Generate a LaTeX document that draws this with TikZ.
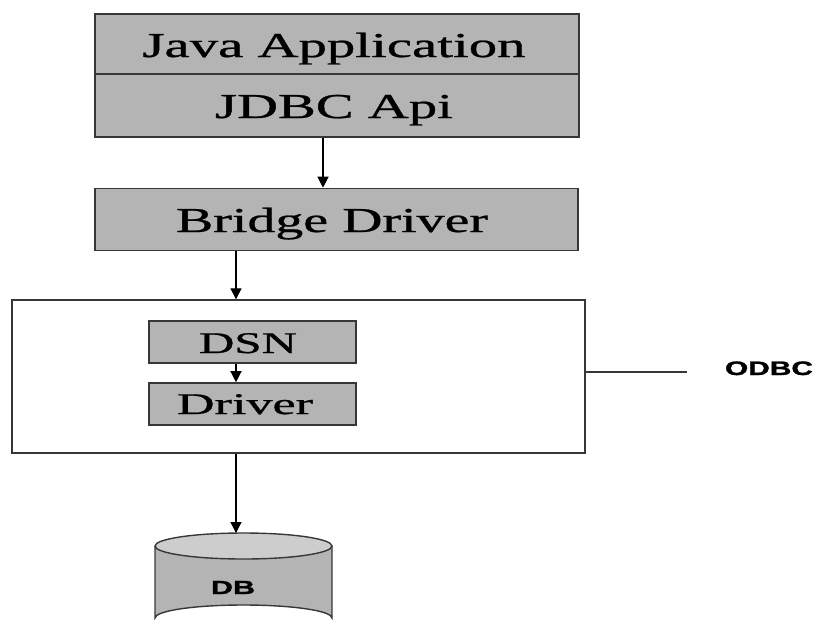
\documentclass[tikz,border=0pt]{standalone}
\usepackage{fontspec}
\usepackage{graphicx}
\setmainfont[FakeBold=0.7]{Liberation Serif}
\newfontfamily\labelsans[FakeBold=1.2]{Liberation Sans Bold}
\usetikzlibrary{arrows.meta}
\definecolor{boxgray}{RGB}{180,180,180}
\definecolor{topgray}{RGB}{205,205,205}
\definecolor{edgegray}{RGB}{55,55,55}
\tikzset{
  graybox/.style={draw=edgegray, line width=1.6pt, fill=boxgray, inner sep=0pt},
  whitebox/.style={draw=edgegray, line width=1.4pt, fill=white, inner sep=0pt},
  arr/.style={draw=black, line width=1.3pt, -{Triangle[length=11pt,width=11pt]}},
  txt/.style={anchor=base, inner sep=0pt, text=black},
}
\newcommand{\sxtext}[3]{\resizebox{#1pt}{\height}{\fontsize{#2}{#2}\selectfont #3}}
\begin{document}
\begin{tikzpicture}[x=1pt, y=-1pt]
\useasboundingbox (0,0) rectangle (820,630);
\begin{scope}
\clip (0,0) rectangle (820,630);
% top stacked box
\node[graybox, minimum width=484pt, minimum height=60pt] (java) at (337,44) {};
\node[graybox, minimum width=484pt, minimum height=63pt] (jdbc) at (337,105.5) {};
\node[txt] (javatxt) at (334,57) {\sxtext{383}{35}{Java Application}};
\node[txt] (jdbctxt) at (334,118) {\sxtext{238}{35}{JDBC Api}};
% bridge driver
\node[graybox, minimum width=483pt, minimum height=62pt] (bridge) at (336.5,219.5) {};
\node[txt] (bridgetxt) at (332,232) {\sxtext{312}{35}{Bridge Driver}};
% odbc container
\node[whitebox, minimum width=573pt, minimum height=153pt] (odbc) at (298.5,376.5) {};
\node[graybox, minimum width=207pt, minimum height=42pt] (dsn) at (252.5,342) {};
\node[graybox, minimum width=207pt, minimum height=42pt] (driver) at (252.5,404) {};
\node[txt] (dsntxt) at (248,353) {\sxtext{98}{30}{DSN}};
\node[txt] (drivertxt) at (245,414) {\sxtext{136}{30}{Driver}};
% odbc label
\node[txt] (odbclabel) at (769,375) {\labelsans\sxtext{88}{19.5}{ODBC}};
\coordinate (lineend) at (687,372);
\draw[draw=edgegray, line width=1.2pt] (odbc.east |- lineend) -- (lineend);
% database cylinder
\fill[boxgray] (155,546) -- (155,618) arc[start angle=180, end angle=360, x radius=88.5, y radius=13] -- (332,546) -- cycle;
\draw[draw=edgegray, line width=1.4pt] (155,546) -- (155,618) arc[start angle=180, end angle=360, x radius=88.5, y radius=13] -- (332,546);
\draw[draw=edgegray, line width=1.4pt, fill=topgray] (243.5,546) ellipse[x radius=88.5, y radius=13];
\coordinate (dbtop) at (236,533);
\node[txt] (db) at (233,594) {\labelsans\sxtext{44}{19}{DB}};
% connectors
\coordinate (colA) at (323,0);
\coordinate (colB) at (236,0);
\draw[arr] (colA |- jdbc.south) -- (colA |- bridge.north);
\draw[arr] (colB |- bridge.south) -- (colB |- odbc.north);
\draw[arr] (colB |- dsn.south) -- (colB |- driver.north);
\draw[arr] (colB |- odbc.south) -- (dbtop);
\end{scope}
\end{tikzpicture}
\end{document}
